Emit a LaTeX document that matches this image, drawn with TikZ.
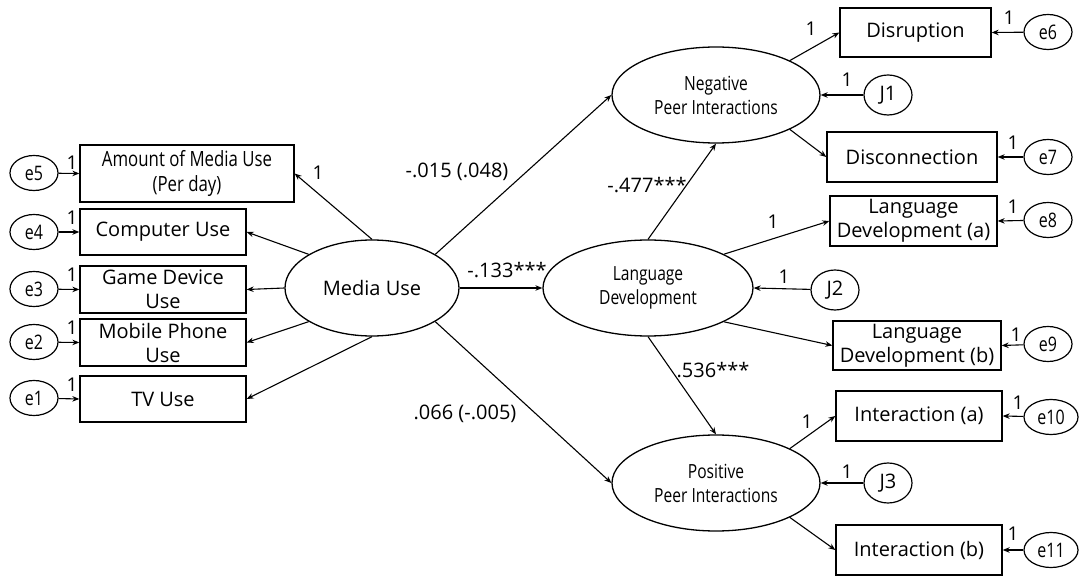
\documentclass[tikz,border=0pt]{standalone}
\usepackage{fontspec}
\setmainfont{Open Sans}
\newfontfamily\narrowfont[FakeStretch=0.8]{Open Sans}
\usetikzlibrary{shapes.geometric,arrows.meta}
\begin{document}
\begin{tikzpicture}[x=1pt,y=-1pt,
  every node/.style={font=\fontsize{20}{24}\selectfont, inner sep=0pt},
  obs/.style={draw, rectangle, line width=1.3pt, align=center},
  lat/.style={draw, ellipse, line width=1.3pt, align=center},
  nar/.style={font=\narrowfont\fontsize{19.5}{24}\selectfont},
  nara/.style={font=\narrowfont\fontsize{21}{25}\selectfont},
  err/.style={draw, ellipse, line width=1.2pt, minimum width=48pt, minimum height=35pt, font=\narrowfont\fontsize{20}{22}\selectfont},
  dis/.style={draw, ellipse, line width=1.2pt, minimum width=48pt, minimum height=40pt},
  arr/.style={-{Stealth[length=7pt,width=5.5pt]}, line width=1.1pt},
  one/.style={font=\fontsize{19}{20}\selectfont},
  coef/.style={font=\fontsize{20}{22}\selectfont}]
\fill[white] (0,0) rectangle (1079,577);
\useasboundingbox (0,0) rectangle (1079,577);

% observed, left
\node[obs, nara, minimum width=214pt, minimum height=57pt] (amt) at (187,173.5) {Amount of Media Use\\(Per day)};
\node[obs, minimum width=166pt, minimum height=46pt] (comp) at (163,232) {Computer Use};
\node[obs, minimum width=166pt, minimum height=47pt] (game) at (163,289.5) {Game Device\\Use};
\node[obs, minimum width=166pt, minimum height=47pt] (mob) at (163,342.5) {Mobile Phone\\Use};
\node[obs, minimum width=166pt, minimum height=46pt] (tv) at (163,399) {TV Use};

\node[err] (e5) at (34,173) {e5};
\node[err] (e4) at (34,232) {e4};
\node[err] (e3) at (34,289) {e3};
\node[err] (e2) at (34,342) {e2};
\node[err] (e1) at (34,398) {e1};

% latent
\node[lat, minimum width=174pt, minimum height=96pt] (media) at (372,288) {Media Use};
\node[lat, nar, minimum width=208pt, minimum height=96pt] (neg) at (716,95) {Negative\\Peer Interactions};
\node[lat, nar, minimum width=210pt, minimum height=96pt] (lang) at (648,288) {Language\\Development};
\node[lat, nar, minimum width=208pt, minimum height=96pt] (pos) at (716,483) {Positive\\Peer Interactions};

% observed, right
\node[obs, minimum width=151pt, minimum height=49pt] (disr) at (915.5,32.5) {Disruption};
\node[obs, minimum width=170pt, minimum height=50pt] (disc) at (912,157) {Disconnection};
\node[obs, minimum width=167pt, minimum height=50pt] (lda) at (913.5,221) {Language\\Development (a)};
\node[obs, minimum width=168pt, minimum height=49pt] (ldb) at (917,345.5) {Language\\Development (b)};
\node[obs, minimum width=166pt, minimum height=50pt] (inta) at (919,416) {Interaction (a)};
\node[obs, minimum width=166pt, minimum height=50pt] (intb) at (919,550) {Interaction (b)};

\node[err] (e6) at (1048,32) {e6};
\node[err] (e7) at (1048,157) {e7};
\node[err] (e8) at (1048,220) {e8};
\node[err] (e9) at (1048,344) {e9};
\node[err, minimum width=54pt] (e10) at (1051,417) {e10};
\node[err, minimum width=54pt] (e11) at (1051,550) {e11};

\node[dis] (j1) at (888,95) {J1};
\node[dis] (j2) at (835,290) {J2};
\node[dis] (j3) at (888,483) {J3};

% arrows left
\draw[arr] (e5) -- (amt.west);
\draw[arr] (e4) -- (comp.west);
\draw[arr] (e3) -- (game.west);
\draw[arr] (e2) -- (mob.west);
\draw[arr] (e1) -- (tv.west);
\draw[arr] (media.north) -- (amt.east);
\draw[arr] (media.152) -- (comp.east);
\draw[arr] (media.west) -- (game.east);
\draw[arr] (media.208) -- (mob.east);
\draw[arr] (media.south) -- (tv.east);

% structural
\draw[arr] (media.28) -- (neg.west);
\draw[arr] (media.east) -- (lang.west);
\draw[arr] (media.-28) -- (pos.west);
\draw[arr] (lang.north) -- (neg.south);
\draw[arr] (lang.south) -- (pos.north);

% right
\draw[arr] (neg.25) -- (disr.west);
\draw[arr] (neg.-25) -- (disc.west);
\draw[arr] (j1) -- (neg.east);
\draw[arr] (lang.24) -- (lda.west);
\draw[arr] (j2) -- (lang.east);
\draw[arr] (lang.-24) -- (ldb.west);
\draw[arr] (pos.25) -- (inta.west);
\draw[arr] (j3) -- (pos.east);
\draw[arr] (pos.-25) -- (intb.west);
\draw[arr] (e6) -- (disr.east);
\draw[arr] (e7) -- (disc.east);
\draw[arr] (e8) -- (lda.east);
\draw[arr] (e9) -- (ldb.east);
\draw[arr] (e10) -- (inta.east);
\draw[arr] (e11) -- (intb.east);

% labels "1"
\node[one] (o5) at (72,163) {1};
\node[one] (o4) at (72,218) {1};
\node[one] (o3) at (72,275) {1};
\node[one] (o2) at (72,328) {1};
\node[one] (o1) at (72,385) {1};
\node[one] (oamt) at (318,173) {1};
\node[one] (odisr) at (811,29) {1};
\node[one] (oj1) at (847,80) {1};
\node[one] (oe6) at (1009,18) {1};
\node[one] (oe7) at (1013,143) {1};
\node[one] (oe8) at (1013,207) {1};
\node[one] (olda) at (773,222) {1};
\node[one] (oj2) at (784,277) {1};
\node[one] (oe9) at (1016,335) {1};
\node[one] (oe10) at (1018,403) {1};
\node[one] (ointa) at (807,422) {1};
\node[one] (oj3) at (847,472) {1};
\node[one] (oe11) at (1013,534) {1};

% coefficients
\node[coef] (c1) at (457,172) {-.015 (.048)};
\node[coef] (c2) at (507,270) {-.133***};
\node[coef] (c3) at (465,414) {.066 (-.005)};
\node[coef] (c4) at (647,185) {-.477***};
\node[coef] (c5) at (713,370) {.536***};
\end{tikzpicture}
\end{document}
